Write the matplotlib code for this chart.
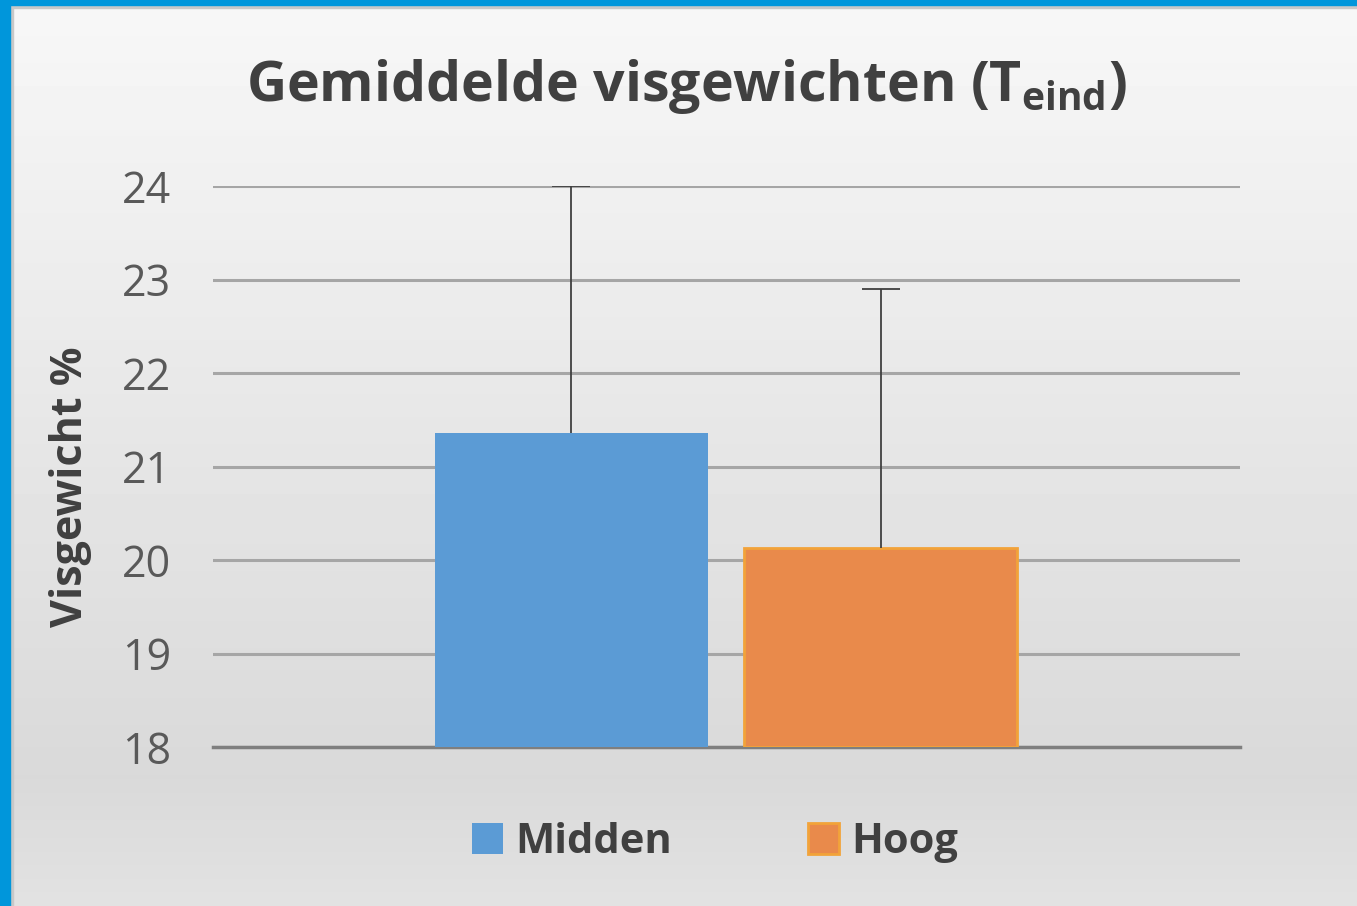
import matplotlib
matplotlib.use("Agg")
import matplotlib.pyplot as plt
import numpy as np
from matplotlib.patches import Rectangle

categories = ["Visgewicht"]
series_names = ["Midden", "Hoog"]
means = [21.36, 20.13]
errors_plus = [2.64, 2.77]
yticks = [18, 19, 20, 21, 22, 23, 24]

colors = ["#5B9BD5", "#E98A4B"]
edges = ["#5B9BD5", "#F2A33A"]

W, H = 1357, 906
fig = plt.figure(figsize=(W / 100, H / 100), dpi=100)

# background gradient
bg = fig.add_axes([0, 0, 1, 1], zorder=-10)
ys = np.linspace(0, 1, 200)
vals = np.interp(ys, [0, 0.14, 1.0], [0.886, 0.851, 0.970])
bg.imshow(vals[:, None] * np.ones((1, 2)), aspect="auto", cmap="gray",
          vmin=0, vmax=1, extent=[0, 1, 0, 1], origin="lower")
bg.set_xlim(0, 1); bg.set_ylim(0, 1)
bg.axis("off")
bg.add_patch(Rectangle((0, 0), 10 / W, 1, color="#0096DB", zorder=5))
bg.add_patch(Rectangle((0, 1 - 5 / H), 1, 5 / H, color="#0096DB", zorder=5))
bg.add_patch(Rectangle((10 / W, 0), 3 / W, 1 - 5 / H, color="#c8c8c8", zorder=4))
bg.add_patch(Rectangle((10 / W, 1 - 8 / H), 1, 3 / H, color="#c8c8c8", zorder=4))

ax = fig.add_axes([213 / W, 1 - 747 / H, (1240 - 213) / W, (747 - 186) / H])
ax.patch.set_alpha(0)

x = np.arange(len(categories))
width = 0.265
offsets = [-0.151, 0.150]
for i, name in enumerate(series_names):
    ax.bar(x + offsets[i], [means[i] - 18], bottom=18, width=width,
           color=colors[i], edgecolor=edges[i], linewidth=2 if i == 1 else 0,
           label=name, zorder=3)
    eb = ax.errorbar(x + offsets[i], [means[i]], yerr=[[0], [errors_plus[i]]],
                     fmt="none", ecolor="#404040", elinewidth=1.3, capsize=14,
                     capthick=1.3, zorder=4)
    eb[1][0].set_visible(False)

ax.set_xlim(-0.5, 0.5)
ax.set_ylim(18, 24)
ax.set_yticks(yticks)
ax.set_yticklabels([str(t) for t in yticks], fontsize=31, color="#595959",
                   family="Open Sans")
ax.tick_params(axis="y", length=0, pad=30)
ax.set_xticks([])
for s in ["top", "right", "left"]:
    ax.spines[s].set_visible(False)
ax.spines["bottom"].set_color("#7f7f7f")
ax.spines["bottom"].set_linewidth(2.5)
ax.grid(axis="y", color="#a6a6a6", linewidth=2.2, zorder=0)
ax.set_axisbelow(True)

fig.text(70 / W, 1 - 487 / H, "Visgewicht %", rotation=90, ha="center",
         va="center", fontsize=31, fontweight="bold", color="#404040",
         family="Open Sans")

fig.text(0.506, 1 - 86 / H, r"Gemiddelde visgewichten (T$_{\mathregular{eind}}$)",
         ha="center", va="center", fontsize=40, fontweight="bold",
         color="#404040", family="Open Sans")

leg = ax.legend(loc="upper center", bbox_to_anchor=(0.489, -0.067), ncol=2,
                frameon=False, handlelength=0.75, handleheight=0.75,
                handletextpad=0.3, columnspacing=3.25,
                prop={"family": "Open Sans", "weight": "bold", "size": 30})
for t in leg.get_texts():
    t.set_color("#404040")

fig.savefig("out.png", dpi=100)
